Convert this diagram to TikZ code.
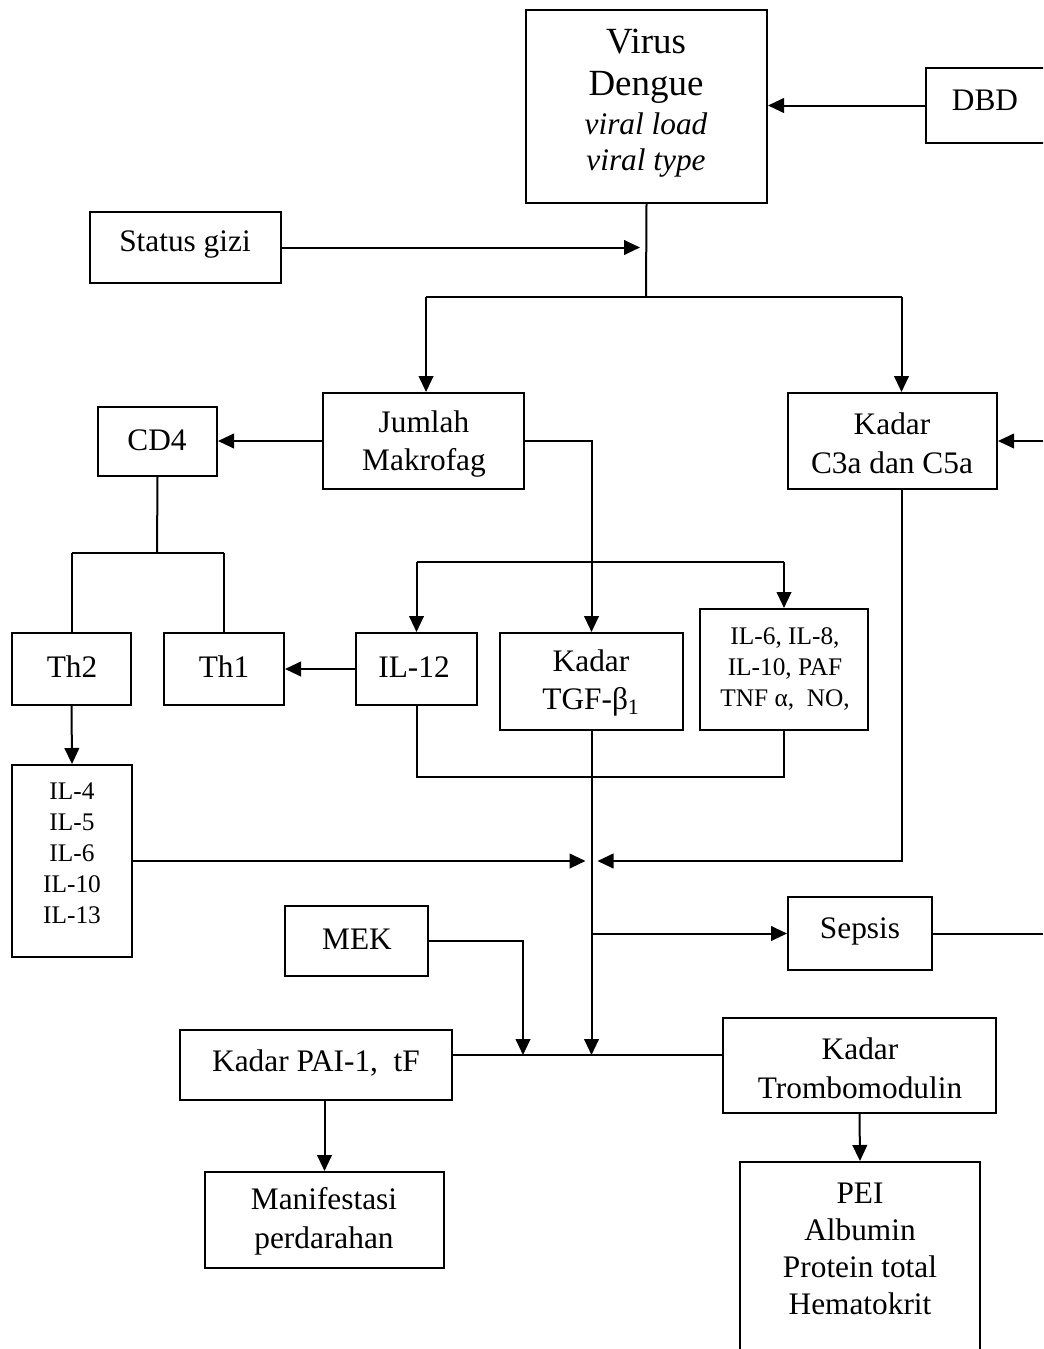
\documentclass[tikz,border=0pt]{standalone}
\usepackage{fontspec}
\setmainfont{Liberation Serif}
\usetikzlibrary{arrows.meta,fit}
\begin{document}
\begin{tikzpicture}[x=0.75pt,y=-0.75pt,line width=1.5pt,
  box/.style={draw,line width=1.5pt,inner sep=0pt},
  txt/.style={inner sep=0pt,align=center,font=\fontsize{23.5pt}{29pt}\selectfont},
  stxt/.style={inner sep=0pt,align=center,font=\fontsize{19pt}{23.25pt}\selectfont},
  arr/.style={-{Triangle[length=12pt,width=11pt]}}]
\useasboundingbox (0,0) rectangle (1043,1349);
\clip (0,0) rectangle (1043,1349);
% boxes
\node[box,fit={(526,10)(767,203)}] (virusbox) {};
\node[box,fit={(926,68)(1070,143)}] (dbdbox) {};
\node[box,fit={(90,212)(281,283)}] (statusbox) {};
\node[box,fit={(323,393)(524,489)}] (jumlahbox) {};
\node[box,fit={(788,393)(997,489)}] (c3abox) {};
\node[box,fit={(98,407)(217,476)}] (cd4box) {};
\node[box,fit={(12,633)(131,705)}] (th2box) {};
\node[box,fit={(164,633)(284,705)}] (th1box) {};
\node[box,fit={(356,633)(477,705)}] (il12box) {};
\node[box,fit={(500,633)(683,730)}] (tgfbox) {};
\node[box,fit={(700,609)(868,730)}] (il6box) {};
\node[box,fit={(12,765)(132,957)}] (il4box) {};
\node[box,fit={(788,897)(932,970)}] (sepsisbox) {};
\node[box,fit={(285,906)(428,976)}] (mekbox) {};
\node[box,fit={(180,1030)(452,1100)}] (paibox) {};
\node[box,fit={(723,1018)(996,1113)}] (trombobox) {};
\node[box,fit={(205,1172)(444,1268)}] (manifbox) {};
\node[box,fit={(740,1162)(980,1400)}] (peibox) {};
% texts
\node[inner sep=0pt,align=center,font=\fontsize{27.7pt}{31.5pt}\selectfont] (virus) at (646,66) {Virus\\Dengue};
\node[txt,font=\fontsize{23.5pt}{27.5pt}\selectfont\itshape] (viral) at (646,145) {viral load\\viral type};
\node[txt] (dbd) at (985,100) {DBD};
\node[txt] (status) at (185,245) {Status gizi};
\node[txt] (jumlah) at (424,444) {Jumlah\\Makrofag};
\node[txt] (c3a) at (892,443) {Kadar\\C3a dan C5a};
\node[txt] (cd4) at (157,440) {CD4};
\node[txt] (th2) at (72,667) {Th2};
\node[txt] (th1) at (224,667) {Th1};
\node[txt] (il12) at (414,667) {IL-12};
\node[txt] (tgf) at (591,683) {Kadar\\TGF-β\textsubscript{1}};
\node[stxt] (il6) at (785,669) {IL-6, IL-8,\\IL-10, PAF\\TNF α,\ \ NO,};
\node[stxt] (il4) at (72,853) {IL-4\\IL-5\\IL-6\\IL-10\\IL-13};
\node[txt] (sepsis) at (860,931) {Sepsis};
\node[txt] (mek) at (357,939) {MEK};
\node[txt] (pai) at (316,1063) {Kadar PAI-1,\ \ tF};
\node[txt] (trombo) at (860,1068) {Kadar\\Trombomodulin};
\node[txt] (manif) at (324,1221) {Manifestasi\\perdarahan};
\node[txt,font=\fontsize{23.5pt}{27.6pt}\selectfont] (pei) at (860,1249) {PEI\\Albumin\\Protein total\\Hematokrit};
% junctions
\coordinate (j1) at (646,297);
\coordinate (j2) at (157,553);
\coordinate (j3) at (592,562);
\coordinate (j4) at (592,777);
\coordinate (j6) at (592,1055);
\coordinate (j7) at (523,1055);
\coordinate (r1) at (1043,441);
\coordinate (r2) at (1043,934);
\coordinate (jt) at ([xshift=1.9pt]jumlahbox.north);
\coordinate (ct) at ([xshift=6.75pt]c3abox.north);
\coordinate (cb) at ([xshift=6.75pt]c3abox.south);
\coordinate (j5) at (il4box.east -| tgfbox.south);
\coordinate (j5l) at ([xshift=-4.5pt]j5);
\coordinate (j5r) at ([xshift=4.5pt]j5);
\coordinate (sg) at ([xshift=-4.5pt]statusbox.east -| j1);
% connectors
\draw[arr] (dbdbox.west) -- (dbdbox.west -| virusbox.east);
\draw (virusbox.south) -- (j1);
\draw[arr] (statusbox.east) -- (sg);
\draw (jt |- j1) -- (ct |- j1);
\draw[arr] (jt |- j1) -- (jt);
\draw[arr] (ct |- j1) -- (ct);
\draw[arr] (r1) -- (r1 -| c3abox.east);
\draw[arr] (jumlahbox.west) -- (jumlahbox.west -| cd4box.east);
\draw (cd4box.south) -- (j2);
\draw (th2box.north |- j2) -- (th1box.north |- j2);
\draw (th2box.north |- j2) -- (th2box.north);
\draw (th1box.north |- j2) -- (th1box.north);
\draw[arr] (il12box.west) -- (il12box.west -| th1box.east);
\draw[arr] (jumlahbox.east) -| (tgfbox.north);
\draw (il12box.north |- j3) -- (il6box.north |- j3);
\draw[arr] (il12box.north |- j3) -- (il12box.north);
\draw[arr] (il6box.north |- j3) -- (il6box.north);
\draw (il12box.south) |- (il6box.south |- j4) -- (il6box.south);
\draw[arr] (th2box.south) -- (il4box.north);
\draw[arr] (tgfbox.south) -- (tgfbox.south |- j6);
\draw[arr] (il4box.east) -- (j5l);
\draw[arr] (cb) |- (j5r);
\draw[arr] (tgfbox.south |- sepsisbox.west) -- (sepsisbox.west);
\draw (sepsisbox.east) -- (sepsisbox.east -| r2);
\draw[arr] (mekbox.east) -| (j7);
\draw (paibox.east |- j6) -- (trombobox.west |- j6);
\draw[arr] (manifbox.north |- paibox.south) -- (manifbox.north);
\draw[arr] (trombobox.south) -- (peibox.north);
\end{tikzpicture}
\end{document}
